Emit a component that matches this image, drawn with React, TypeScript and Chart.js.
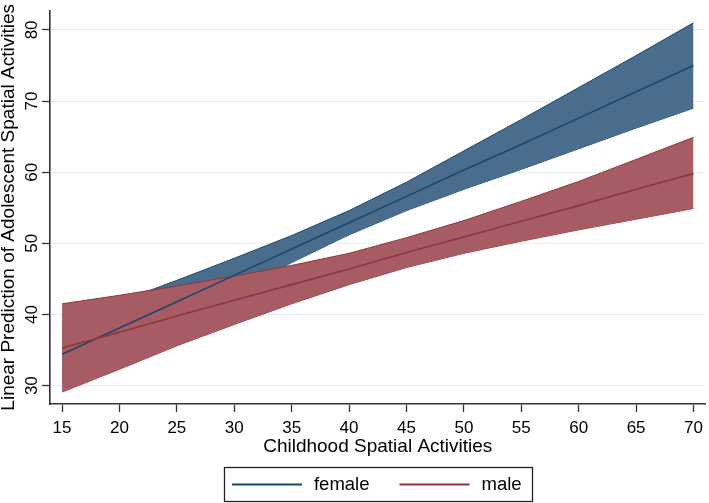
import React, { useEffect, useRef } from "react";
import { Chart, registerables } from "chart.js";

Chart.register(...registerables);

const xValues = [15, 20, 25, 30, 35, 40, 45, 50, 55, 60, 65, 70];
const femaleMean = [34.4, 38.1, 41.8, 45.5, 49.2, 52.9, 56.6, 60.3, 63.9, 67.6, 71.3, 75.0];
const femaleLower = [30.0, 34.4, 38.8, 43.1, 47.3, 51.2, 54.6, 57.6, 60.4, 63.3, 66.2, 69.0];
const femaleUpper = [38.8, 41.8, 44.8, 47.9, 51.1, 54.6, 58.6, 63.0, 67.4, 71.9, 76.4, 81.0];
const maleMean = [35.3, 37.5, 39.8, 42.0, 44.2, 46.4, 48.7, 50.9, 53.1, 55.3, 57.6, 59.8];
const maleLower = [29.1, 32.3, 35.6, 38.6, 41.5, 44.2, 46.6, 48.6, 50.3, 51.9, 53.4, 54.9];
const maleUpper = [41.5, 42.7, 44.0, 45.4, 46.9, 48.6, 50.8, 53.2, 55.9, 58.7, 61.8, 64.9];
const xTicks = [15, 20, 25, 30, 35, 40, 45, 50, 55, 60, 65, 70];
const yTicks = [30, 40, 50, 60, 70, 80];
const xTitle = "Childhood Spatial Activities";
const yTitle = "Linear Prediction of Adolescent Spatial Activities";
const seriesNames = ["female", "male"];

const FAMILY = '"Liberation Sans", Arial, Helvetica, sans-serif';
const BLUE = "#1a476f";
const BLUE_FILL = "#4a6d8e";
const RED = "#90353b";
const RED_FILL = "#a65c62";

const pts = (ys: number[]) => xValues.map((x, i) => ({ x, y: ys[i] }));

const legendBoxPlugin = {
  id: "legendBox",
  afterDraw(chart: any) {
    const ctx = chart.ctx;
    const ca = chart.chartArea;
    const items = chart.data.datasets.filter((d: any) => d.isLegend);
    ctx.save();
    ctx.font = `18.5px ${FAMILY}`;
    const lineLen = 70;
    const gap = 12;
    const itemGap = 30;
    const padL = 8;
    const padR = 10;
    const widths = items.map((d: any) => ctx.measureText(d.label).width);
    let total = padL + padR + itemGap * (items.length - 1);
    widths.forEach((w: number) => (total += lineLen + gap + w));
    const left = (ca.left + ca.right) / 2 - total / 2;
    const top = 467;
    const h = 34;
    ctx.strokeStyle = "#222";
    ctx.lineWidth = 1.3;
    ctx.strokeRect(Math.round(left) + 0.5, top + 0.5, Math.round(total), h);
    let x = left + padL;
    const cy = top + h / 2 + 0.5;
    items.forEach((d: any, i: number) => {
      ctx.strokeStyle = d.borderColor;
      ctx.lineWidth = 2;
      ctx.beginPath();
      ctx.moveTo(x, cy);
      ctx.lineTo(x + lineLen, cy);
      ctx.stroke();
      x += lineLen + gap;
      ctx.fillStyle = "#000";
      ctx.textBaseline = "middle";
      ctx.textAlign = "left";
      ctx.fillText(d.label, x, cy);
      x += widths[i] + itemGap;
    });
    ctx.restore();
  },
};

export default function App() {
  const ref = useRef<HTMLCanvasElement | null>(null);

  useEffect(() => {
    if (!ref.current) return;
    Chart.defaults.font.family = FAMILY;
    const chart = new Chart(ref.current, {
      type: "line",
      data: {
        datasets: [
          {
            label: "femaleUpper",
            data: pts(femaleUpper),
            borderColor: BLUE,
            borderWidth: 1,
            backgroundColor: BLUE_FILL,
            fill: "+1",
            order: 5,
          },
          {
            label: "femaleLower",
            data: pts(femaleLower),
            borderColor: BLUE,
            borderWidth: 1,
            fill: false,
            order: 5,
          },
          {
            label: "maleUpper",
            data: pts(maleUpper),
            borderColor: RED,
            borderWidth: 1,
            backgroundColor: RED_FILL,
            fill: "+1",
            order: 3,
          },
          {
            label: "maleLower",
            data: pts(maleLower),
            borderColor: RED,
            borderWidth: 1,
            fill: false,
            order: 3,
          },
          {
            label: seriesNames[0],
            data: pts(femaleMean),
            borderColor: BLUE,
            borderWidth: 1.6,
            fill: false,
            order: 1,
            isLegend: true,
          } as any,
          {
            label: seriesNames[1],
            data: pts(maleMean),
            borderColor: RED,
            borderWidth: 1.6,
            fill: false,
            order: 0,
            isLegend: true,
          } as any,
        ],
      },
      options: {
        animation: false,
        responsive: true,
        maintainAspectRatio: false,
        layout: { padding: { top: 2, right: 2, bottom: 43, left: 0 } },
        elements: { point: { radius: 0 }, line: { tension: 0 } },
        plugins: {
          legend: { display: false },
          tooltip: { enabled: false },
          filler: { propagate: false },
        },
        scales: {
          x: {
            type: "linear",
            min: 13.95,
            max: 71.05,
            afterBuildTicks: (s: any) => {
              s.ticks = xTicks.map((v) => ({ value: v }));
            },
            afterFit: (s: any) => {
              s.height = 56;
            },
            grid: {
              drawOnChartArea: false,
              drawTicks: true,
              tickLength: 8,
              tickColor: "#333",
              tickWidth: 1.3,
            },
            border: { color: "#333", width: 1.6 },
            ticks: {
              autoSkip: false,
              maxRotation: 0,
              minRotation: 0,
              padding: 6,
              color: "#000",
              font: { size: 17, family: FAMILY },
            },
            title: {
              display: true,
              text: xTitle,
              color: "#000",
              font: { size: 19, family: FAMILY, lineHeight: 1 },
              padding: { top: 0, bottom: 4 },
            },
          },
          y: {
            type: "linear",
            min: 27.42,
            max: 82.7,
            afterBuildTicks: (s: any) => {
              s.ticks = yTicks.map((v) => ({ value: v }));
            },
            afterFit: (s: any) => {
              s.width = 50;
            },
            grid: {
              color: "#e6eef0",
              lineWidth: 1,
              drawTicks: true,
              tickLength: 8,
              tickColor: "#333",
              tickWidth: 1.3,
            },
            border: { color: "#333", width: 1.6 },
            ticks: {
              minRotation: 90,
              maxRotation: 90,
              crossAlign: "center",
              padding: 0.5,
              color: "#000",
              font: { size: 17, family: FAMILY },
            },
            title: {
              display: true,
              text: yTitle,
              color: "#000",
              font: { size: 19, family: FAMILY, lineHeight: 1 },
              padding: { top: -1, bottom: 0 },
            },
          },
        },
      },
      plugins: [legendBoxPlugin],
    });
    return () => chart.destroy();
  }, []);

  return (
    <div style={{ position: "fixed", left: 0, top: 0, width: 709, height: 503, background: "#fff" }}>
      <canvas ref={ref} />
    </div>
  );
}
